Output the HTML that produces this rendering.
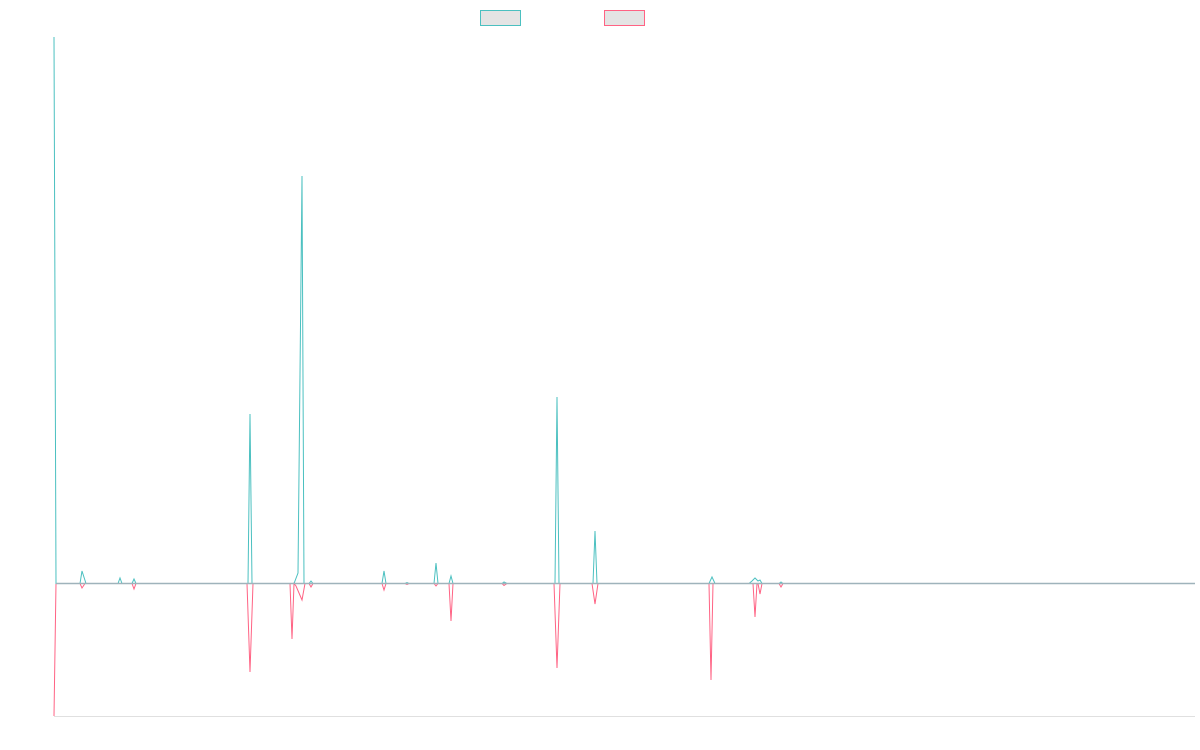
<!DOCTYPE html>
<html><head><meta charset="utf-8"><style>html,body{margin:0;padding:0;background:#fff;}svg{display:block}</style></head>
<body>
<svg width="1200" height="750" viewBox="0 0 1200 750" xmlns="http://www.w3.org/2000/svg">
<line x1="54" y1="716.5" x2="1195" y2="716.5" stroke="#e0e0e0" stroke-width="1"/>
<rect x="480.5" y="10.5" width="40" height="15" fill="#e4e4e4" stroke="#4bc0c0" stroke-width="1"/>
<rect x="604.5" y="10.5" width="40" height="15" fill="#e4e4e4" stroke="#ff6384" stroke-width="1"/>
<polyline fill="none" stroke="#ff6384" stroke-width="1" points="54,716 56,583.5 80,583.5 82,588 85,583.5 132,583.5 134,589 136,583.5 247,583.5 250,672 253,583.5 290,583.5 292,639 294,583.5 296,586 302,600 305,583.5 309,583.5 311,587 313,583.5 382,583.5 384,590 386,583.5 405,583.5 407,584.5 409,583.5 434,583.5 436,586 438,583.5 449,583.5 451,621 453,583.5 502,583.5 504,585.5 507,583.5 554,583.5 557,668 560,583.5 592,583.5 595,604 598,583.5 709,583.5 711,680 713,583.5 753,583.5 755,617 757,583.5 758,583.5 760,594 762,583.5 779,583.5 781,587 783,583.5 1195,583.5"/>
<polyline fill="none" stroke="#4bc0c0" stroke-width="1" points="54,37 56,583.5 80,583.5 82,571 86,583.5 118,583.5 120,578 122,583.5 132,583.5 134,579 136,583.5 248,583.5 250,414 252,583.5 290,583.5 294,583.5 298,573 302,176 304,583.5 309,583.5 311,581 313,583.5 382,583.5 384,571 386,583.5 405,583.5 407,582.5 409,583.5 434,583.5 436,563 438,583.5 449,583.5 451,576 453,583.5 502,583.5 504,582 507,583.5 555,583.5 557,397 559,583.5 593,583.5 595,531 597,583.5 709,583.5 712,577 715,583.5 749,583.5 752,581 755,578 758,581 760,580 762,583.5 779,583.5 781,582 783,583.5 1195,583.5"/>
<line x1="56" y1="583.5" x2="1195" y2="583.5" stroke="#9fb3bb" stroke-width="1.5"/>
</svg>
</body></html>
